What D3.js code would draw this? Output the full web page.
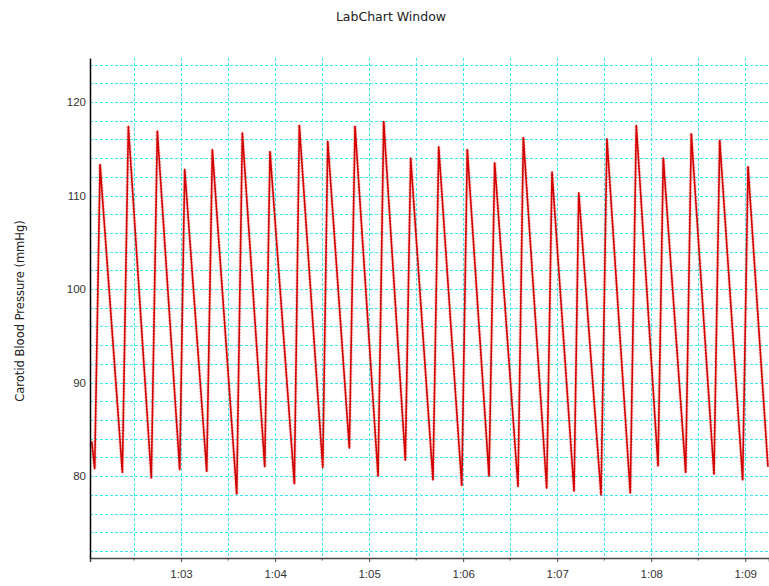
<!DOCTYPE html>
<head>
    <meta charset="utf-8">
    <title>LabChart Window</title>
</head>
<style>
    body {
        margin: 0;
        background: #fff;
    }
    svg {
        display: block;
        font-family: "DejaVu Sans", sans-serif;
    }
    .grid line {
        stroke: #3ce8f2;
        stroke-width: 1px;
        stroke-dasharray: 3, 2;
    }
    .trace-halo {
        fill: none;
        stroke: #e86a6a;
        stroke-width: 3.5px;
        stroke-opacity: .55;
        stroke-dasharray: 1.5, 1.5;
    }
    .trace {
        fill: none;
        stroke: #d20000;
        stroke-width: 1.6px;
        stroke-linejoin: round;
    }
    .title {
        font-size: 12.5px;
        fill: #222;
    }
    .ylabel {
        font-size: 11.5px;
        fill: #222;
    }
    .axis text {
        font-size: 11.5px;
        fill: #333;
    }
</style>
<body>

<script src="https://d3js.org/d3.v7.min.js"></script>

<script>
    // beat landmarks (time in s, pressure in mmHg)
    var peakTimes = [62.139, 62.440, 62.748, 63.039, 63.333, 63.652, 63.946, 64.258,
                     64.560, 64.850, 65.155, 65.442, 65.740, 66.044, 66.335, 66.640,
                     66.945, 67.229, 67.529, 67.841, 68.128, 68.426, 68.728, 69.029];
    var peakValues = [113.3, 117.4, 116.9, 112.8, 114.9, 116.7, 114.7, 117.5,
                      115.8, 117.4, 117.9, 114.0, 115.2, 114.9, 113.5, 116.2,
                      112.5, 110.3, 116.05, 117.5, 114.0, 116.6, 115.9, 113.1];
    var troughTimes = [62.082, 62.376, 62.684, 62.986, 63.273, 63.592, 63.890, 64.205,
                       64.507, 64.790, 65.095, 65.385, 65.679, 65.985, 66.275, 66.583,
                       66.888, 67.179, 67.466, 67.777, 68.072, 68.366, 68.667, 68.972];
    var troughValues = [80.8, 80.4, 79.8, 80.7, 80.5, 78.1, 81.0, 79.2,
                        80.9, 83.0, 80.0, 81.7, 79.6, 79.0, 80.0, 78.9,
                        78.7, 78.4, 78.0, 78.2, 81.1, 80.4, 80.2, 79.6];
    // first and last samples in the window
    var edgeTimes = [62.050, 69.241];
    var edgeValues = [83.7, 81.0];

    var xTicks = [63, 64, 65, 66, 67, 68, 69];
    var xTickLabels = ["1:03", "1:04", "1:05", "1:06", "1:07", "1:08", "1:09"];
    var yTicks = [80, 90, 100, 110, 120];

    var width = 769,
        height = 586;
    var margin = {top: 58, right: 0, bottom: 28, left: 90};

    var x = d3.scaleLinear()
        .domain([62.032, 69.252])
        .range([margin.left, width - margin.right]);
    var y = d3.scaleLinear()
        .domain([71.25, 124.7])
        .range([height - margin.bottom, margin.top]);

    var svg = d3.select("body").append("svg")
        .attr("width", width)
        .attr("height", height);

    // dashed cyan grid
    var grid = svg.append("g").attr("class", "grid");
    grid.selectAll(".h")
        .data(d3.range(72, 125, 2))
        .enter().append("line")
        .attr("x1", margin.left)
        .attr("x2", width - margin.right)
        .attr("y1", function (d) { return Math.round(y(d)) + .5; })
        .attr("y2", function (d) { return Math.round(y(d)) + .5; });
    grid.selectAll(".v")
        .data(d3.range(62.5, 69.1, 0.5))
        .enter().append("line")
        .attr("x1", function (d) { return Math.round(x(d)) + .5; })
        .attr("x2", function (d) { return Math.round(x(d)) + .5; })
        .attr("y1", margin.top)
        .attr("y2", height - margin.bottom);

    // build the trace from the landmarks
    var points = [[edgeTimes[0], edgeValues[0]]];
    for (var i = 0; i < peakTimes.length; i++) {
        points.push([troughTimes[i], troughValues[i]]);
        points.push([peakTimes[i], peakValues[i]]);
    }
    points.push([edgeTimes[1], edgeValues[1]]);

    var line = d3.line()
        .x(function (d) { return x(d[0]); })
        .y(function (d) { return y(d[1]); });

    svg.append("path")
        .datum(points)
        .attr("class", "trace-halo")
        .attr("d", line);
    svg.append("path")
        .datum(points)
        .attr("class", "trace")
        .attr("d", line);

    // axes
    var xAxis = svg.append("g")
        .attr("class", "axis")
        .attr("transform", "translate(0," + (height - margin.bottom) + ")")
        .call(d3.axisBottom(x)
            .tickValues(xTicks)
            .tickSize(4)
            .tickPadding(8)
            .tickFormat(function (d, i) { return xTickLabels[i]; }));
    xAxis.select(".domain").attr("stroke", "#444").attr("stroke-width", 1.5);
    xAxis.selectAll(".tick line").attr("stroke", "#444");
    xAxis.selectAll(".minor")
        .data(d3.range(62.5, 69.1, 1))
        .enter().append("line")
        .attr("class", "minor")
        .attr("x1", function (d) { return x(d); })
        .attr("x2", function (d) { return x(d); })
        .attr("y1", 0)
        .attr("y2", 2.5)
        .attr("stroke", "#444");

    var yAxis = svg.append("g")
        .attr("class", "axis")
        .attr("transform", "translate(" + margin.left + ",0)")
        .call(d3.axisLeft(y)
            .tickValues(yTicks)
            .tickSize(0)
            .tickPadding(4));
    yAxis.select(".domain").attr("stroke", "#000").attr("stroke-width", 1.5);

    svg.append("text")
        .attr("class", "title")
        .attr("x", 391)
        .attr("y", 21)
        .attr("text-anchor", "middle")
        .text("LabChart Window");

    svg.append("text")
        .attr("class", "ylabel")
        .attr("transform", "translate(24,311) rotate(-90)")
        .attr("text-anchor", "middle")
        .text("Carotid Blood Pressure (mmHg)");
</script>

</body>
